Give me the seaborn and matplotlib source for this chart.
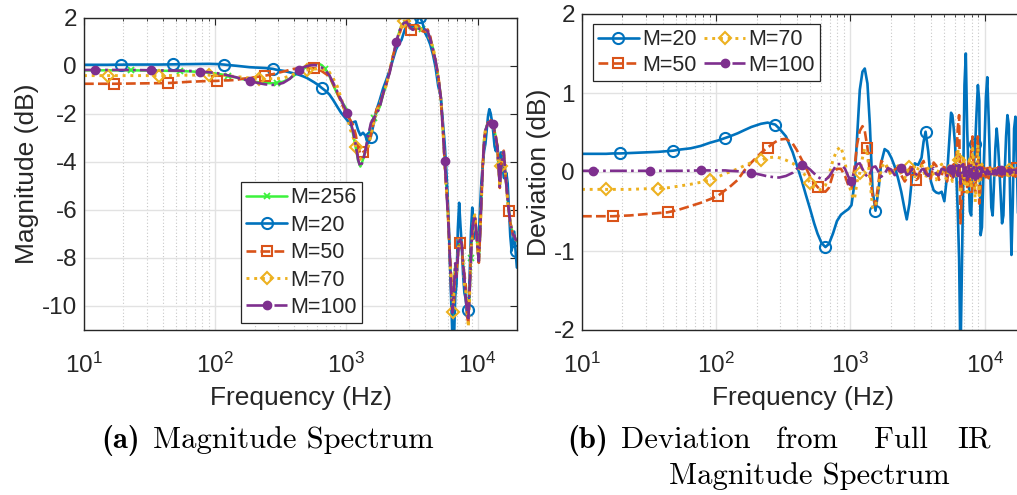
import numpy as np
import matplotlib
matplotlib.use("Agg")
import matplotlib.pyplot as plt
import seaborn as sns
from matplotlib.lines import Line2D
from matplotlib.ticker import LogLocator, NullFormatter

# ---------------------------------------------------------------------------
# Data: frequency grid (log10 Hz), full-IR magnitude (M=256) and deviations
# of the truncated responses from it (dB).
# ---------------------------------------------------------------------------
log_freq = [
    1.0, 1.084, 1.18, 1.232, 1.285, 1.356, 1.43, 1.508, 1.568, 1.638,
    1.68, 1.735, 1.81, 1.885, 1.953, 2.015, 2.067, 2.10, 2.16, 2.21,
    2.262, 2.333, 2.383, 2.44, 2.47, 2.52, 2.57, 2.60, 2.636, 2.67,
    2.70, 2.73, 2.755, 2.785, 2.814, 2.84, 2.87, 2.90, 2.93, 2.96,
    2.985, 3.008, 3.03, 3.05, 3.07, 3.09, 3.107, 3.127, 3.145, 3.165,
    3.187, 3.21, 3.23, 3.255, 3.28, 3.305, 3.33, 3.355, 3.379, 3.405,
    3.42, 3.44, 3.46, 3.48, 3.49, 3.505, 3.53, 3.545, 3.56, 3.58,
    3.60, 3.62, 3.64, 3.66, 3.68, 3.70, 3.72, 3.735,
    3.75, 3.76, 3.77, 3.78, 3.79, 3.80, 3.81, 3.82, 3.83, 3.84,
    3.85, 3.86, 3.87, 3.88, 3.89, 3.90, 3.91, 3.92, 3.93, 3.94,
    3.95, 3.96, 3.97, 3.98, 3.99, 4.00, 4.01, 4.02, 4.03, 4.04,
    4.05, 4.06, 4.07, 4.08, 4.09, 4.10, 4.11, 4.12, 4.13, 4.14,
    4.15, 4.16, 4.17, 4.18, 4.19, 4.20, 4.21, 4.22, 4.23, 4.24,
    4.25, 4.26, 4.27, 4.28, 4.29, 4.30,
]

mag_full = [
    -0.18, -0.18, -0.18, -0.18, -0.18, -0.18, -0.185, -0.19, -0.195, -0.20,
    -0.205, -0.21, -0.225, -0.25, -0.28, -0.32, -0.37, -0.41, -0.48, -0.55,
    -0.62, -0.68, -0.71, -0.72, -0.71, -0.65, -0.52, -0.40, -0.26, -0.13,
    -0.03, 0.05, 0.10, 0.11, 0.03, -0.12, -0.40, -0.80, -1.15, -1.45,
    -1.65, -1.85, -2.30, -2.80, -3.35, -3.95, -4.19, -3.90, -3.50, -3.00,
    -2.45, -2.15, -1.95, -1.70, -1.20, -0.75, -0.25, 0.35, 0.94, 1.45,
    1.68, 1.82, 1.78, 1.65, 1.60, 1.55, 1.55, 1.56, 1.55, 1.55,
    1.50, 1.40, 1.15, 0.75, 0.20, -0.45, -1.25, -2.60,
    -4.00, -4.85, -5.70, -6.80, -8.15, -9.40, -10.40, -9.20, -8.30, -8.90,
    -7.90, -7.20, -7.20, -7.50, -8.20, -8.90, -9.60, -10.30, -10.50, -9.50,
    -8.00, -6.80, -6.40, -6.30, -6.80, -7.60, -8.10, -7.00, -5.50, -4.20,
    -3.10, -2.70, -2.50, -2.40, -2.35, -2.32, -2.35, -2.45, -2.70, -3.00,
    -3.30, -4.20, -5.00, -4.20, -3.70, -3.60, -4.30, -5.00, -5.60, -6.10,
    -6.50, -6.80, -7.00, -7.10, -7.20, -7.30,
]

dev_m20 = [
    0.23, 0.23, 0.23, 0.235, 0.235, 0.24, 0.245, 0.25, 0.255, 0.265,
    0.27, 0.285, 0.30, 0.33, 0.37, 0.40, 0.43, 0.45, 0.49, 0.53,
    0.57, 0.61, 0.625, 0.60, 0.55, 0.45, 0.25, 0.09, -0.10, -0.30,
    -0.47, -0.65, -0.78, -0.90, -0.95, -0.91, -0.78, -0.62, -0.54, -0.50,
    -0.47, -0.42, -0.15, 0.45, 1.04, 1.27, 1.31, 1.12, 0.60, -0.23,
    -0.49, -0.22, 0.12, 0.29, 0.26, 0.18, 0.07, -0.08, -0.25, -0.48,
    -0.60, -0.40, -0.05, 0.11, 0.10, 0.09, 0.18, 0.38, 0.51, 0.26,
    -0.12, -0.23, -0.26, -0.27, -0.25, -0.37, -0.05, 0.35,
    0.75, 0.72, 0.55, 0.35, -0.05, -0.50, -1.10, -2.40, -1.30, -0.20,
    1.10, 1.50, 0.55, 0.00, -0.50, -0.55, -0.10, 0.07, 0.35, 0.75,
    1.10, 0.90, -0.80, -0.70, -0.10, 0.40, 0.95, 1.20, 0.70, 0.10,
    -0.45, -0.55, -0.15, 0.30, 0.55, 0.35, 0.05, -0.30, -0.65, -0.55,
    0.00, 0.45, 0.72, 0.60, -0.30, -1.05, -0.40, 0.55, 0.70, 0.10,
    -0.60, -0.90, -0.30, 0.20, -0.50, -1.10,
]

dev_m50 = [
    -0.56, -0.56, -0.56, -0.56, -0.555, -0.55, -0.54, -0.53, -0.52, -0.51,
    -0.495, -0.47, -0.43, -0.39, -0.345, -0.30, -0.23, -0.19, -0.10, 0.02,
    0.12, 0.24, 0.31, 0.38, 0.41, 0.42, 0.36, 0.28, 0.16, 0.05,
    -0.06, -0.14, -0.19, -0.24, -0.25, -0.20, -0.03, 0.04, 0.04, -0.05,
    -0.17, -0.21, 0.05, 0.35, 0.52, 0.58, 0.52, 0.31, -0.02, -0.30,
    -0.42, -0.12, 0.14, 0.10, 0.04, -0.02, 0.03, 0.06, -0.04, -0.12,
    -0.08, 0.04, 0.10, -0.02, -0.10, -0.08, 0.10, 0.14, 0.05, -0.10,
    -0.08, 0.12, 0.08, -0.10, -0.05, 0.10, -0.12, 0.05,
    -0.05, -0.10, 0.10, -0.05, 0.20, 0.55, 0.72, -0.65, -0.30, 0.20,
    0.10, -0.15, -0.19, 0.15, -0.20, 0.25, 0.45, -0.10, -0.25, 0.15,
    0.45, -0.40, -0.20, 0.10, -0.05, 0.08, -0.10, 0.05, -0.08, 0.06,
    -0.05, 0.04, -0.06, 0.05, -0.04, 0.06, -0.05, 0.04, -0.06, 0.05,
    -0.04, 0.06, -0.08, 0.05, -0.04, 0.07, -0.05, 0.04, -0.06, 0.05,
    -0.04, 0.06, -0.05, 0.04, -0.05, 0.05,
]

dev_m70 = [
    -0.22, -0.22, -0.22, -0.22, -0.22, -0.22, -0.215, -0.21, -0.21, -0.20,
    -0.19, -0.175, -0.155, -0.13, -0.10, -0.06, -0.02, 0.0, 0.04, 0.08,
    0.12, 0.15, 0.18, 0.19, 0.18, 0.15, 0.11, 0.07, 0.02, -0.06,
    -0.14, -0.20, -0.23, -0.22, -0.17, -0.04, 0.15, 0.28, 0.32, 0.12,
    -0.12, -0.28, -0.35, -0.12, -0.01, 0.18, 0.30, 0.22, -0.10, -0.45,
    -0.45, -0.20, 0.05, 0.12, 0.05, -0.05, 0.04, 0.08, -0.03, -0.08,
    0.0, 0.06, 0.02, -0.06, -0.04, 0.05, 0.10, 0.02, -0.08, 0.05,
    0.10, -0.04, -0.10, 0.05, 0.10, -0.05, -0.10, 0.08,
    -0.05, -0.12, 0.10, 0.15, -0.05, 0.30, 0.15, -0.27, -0.10, 0.20,
    -0.15, 0.10, -0.30, 0.05, 0.20, -0.20, 0.30, 0.10, -0.38, -0.10,
    0.35, -0.30, 0.05, 0.10, -0.05, 0.05, -0.04, 0.04, -0.03, 0.04,
    -0.04, 0.03, -0.04, 0.04, -0.03, 0.04, -0.04, 0.03, -0.04, 0.04,
    -0.03, 0.04, -0.04, 0.03, -0.04, 0.04, -0.03, 0.04, -0.04, 0.03,
    -0.04, 0.04, -0.03, 0.04, -0.04, 0.03,
]

dev_m100 = [
    0.015, 0.015, 0.015, 0.015, 0.015, 0.015, 0.015, 0.015, 0.015, 0.015,
    0.015, 0.015, 0.018, 0.02, 0.02, 0.02, 0.02, 0.015, 0.01, 0.0,
    -0.01, -0.035, -0.055, -0.068, -0.07, -0.05, -0.01, 0.04, 0.085, 0.07,
    0.03, -0.02, -0.06, -0.09, -0.10, -0.06, 0.02, 0.10, 0.10, 0.04,
    -0.06, -0.11, 0.02, 0.10, 0.11, 0.04, -0.02, -0.06, -0.02, 0.06,
    0.07, 0.0, -0.06, -0.02, 0.05, 0.03, -0.04, -0.02, 0.05, 0.02,
    -0.04, -0.02, 0.04, 0.01, -0.03, -0.04, 0.03, 0.04, -0.02, -0.05,
    0.02, 0.05, -0.03, -0.04, 0.04, 0.03, -0.05, 0.02,
    0.04, -0.03, -0.06, 0.05, 0.08, -0.05, 0.12, -0.15, 0.08, 0.10,
    -0.08, 0.06, -0.10, 0.08, -0.06, 0.10, -0.08, 0.06, -0.10, 0.12,
    -0.08, 0.06, -0.05, 0.05, -0.04, 0.04, -0.03, 0.03, -0.03, 0.03,
    -0.03, 0.03, -0.03, 0.03, -0.03, 0.03, -0.03, 0.03, -0.03, 0.03,
    -0.03, 0.03, -0.03, 0.03, -0.03, 0.03, -0.03, 0.03, -0.03, 0.03,
    -0.03, 0.03, -0.03, 0.03, -0.03, 0.03,
]

# Marker locations along each curve (log10 Hz)
mk_m256 = [1.356, 1.735, 2.10, 2.47, 2.84, 3.21, 3.58, 3.95]
mk_m20 = [1.285, 1.68, 2.067, 2.44, 2.814, 3.187, 3.56, 3.93, 4.29]
mk_m50 = [1.232, 1.638, 2.015, 2.383, 2.755, 3.127, 3.49, 3.87, 4.24]
mk_m70 = [1.18, 1.568, 1.953, 2.333, 2.70, 3.07, 3.44, 3.81, 4.18]
mk_m100 = [1.084, 1.508, 1.885, 2.262, 2.636, 3.008, 3.379, 3.75, 4.12]

labels = ["M=256", "M=20", "M=50", "M=70", "M=100"]

# ---------------------------------------------------------------------------
lf = np.asarray(log_freq)
freq = 10.0 ** lf
full = np.asarray(mag_full)
devs = {"M=20": np.asarray(dev_m20), "M=50": np.asarray(dev_m50),
        "M=70": np.asarray(dev_m70), "M=100": np.asarray(dev_m100)}
mags = {"M=256": full}
for k, d in devs.items():
    mags[k] = full + d

marks = {"M=256": mk_m256, "M=20": mk_m20, "M=50": mk_m50,
         "M=70": mk_m70, "M=100": mk_m100}
mark_idx = {k: sorted({int(np.argmin(np.abs(lf - m))) for m in v})
            for k, v in marks.items()}

C20, C50, C70, C100, C256 = "#0072BD", "#D95319", "#EDB120", "#7E2F8E", "#3CF23C"
styles = {
    "M=256": dict(color=C256, linestyle="-", marker="x", markersize=4.5,
                  markerfacecolor=C256, markeredgecolor=C256, markeredgewidth=1.3,
                  linewidth=1.8),
    "M=20": dict(color=C20, linestyle="-", marker="o", markersize=8,
                 markerfacecolor="none", markeredgecolor=C20, markeredgewidth=1.5,
                 linewidth=1.9),
    "M=50": dict(color=C50, linestyle="--", marker="s", markersize=7,
                 markerfacecolor="none", markeredgecolor=C50, markeredgewidth=1.5,
                 linewidth=1.9),
    "M=70": dict(color=C70, linestyle=":", marker="D", markersize=6.5,
                 markerfacecolor="none", markeredgecolor=C70, markeredgewidth=1.5,
                 linewidth=2.1),
    "M=100": dict(color=C100, linestyle="-.", marker="o", markersize=6,
                  markerfacecolor=C100, markeredgecolor=C100, markeredgewidth=1.0,
                  linewidth=1.9),
}

# ---------------------------------------------------------------------------
sns.set_theme(style="white")
plt.rcParams["font.family"] = ["Liberation Sans", "DejaVu Sans"]
plt.rcParams["mathtext.fontset"] = "custom"
plt.rcParams["mathtext.rm"] = "Liberation Sans"
plt.rcParams["mathtext.it"] = "Liberation Sans:italic"
plt.rcParams["axes.unicode_minus"] = False

INK = "#262626"
W, H = 1017, 495
fig = plt.figure(figsize=(W / 100, H / 100), dpi=100)


def px_axes(x0, y0, x1, y1):
    return fig.add_axes([x0 / W, 1 - y1 / H, (x1 - x0) / W, (y1 - y0) / H])


def style_axes(ax, ylim, yticks):
    ax.set_xscale("log")
    ax.set_xlim(10, 20000)
    ax.set_ylim(*ylim)
    ax.set_yticks(yticks)
    ax.xaxis.set_major_locator(LogLocator(base=10, numticks=10))
    ax.xaxis.set_minor_locator(LogLocator(base=10, subs=np.arange(2, 10), numticks=100))
    ax.xaxis.set_minor_formatter(NullFormatter())
    ax.grid(True, which="major", color="#e2e2e2", linewidth=1.0, linestyle="-")
    ax.grid(True, which="minor", axis="x", color="#c8c8c8", linewidth=0.8,
            linestyle=(0, (1, 2)))
    ax.set_axisbelow(True)
    for s in ax.spines.values():
        s.set_visible(True)
        s.set_color(INK)
        s.set_linewidth(1.0)
    ax.tick_params(which="both", direction="in", top=True, right=True,
                   colors=INK, labelsize=17.5)
    ax.tick_params(which="major", length=5, width=0.8)
    ax.tick_params(which="minor", length=2.5, width=0.6)
    ax.tick_params(axis="x", which="major", pad=16)
    ax.tick_params(axis="y", which="major", pad=5)


def draw(ax, key, y):
    st = dict(styles[key])
    sns.lineplot(x=freq, y=y, ax=ax, estimator=None, sort=False,
                 markevery=mark_idx[key], legend=False, **st)


def proxy(key):
    return Line2D([0], [0], **styles[key])


LEG = dict(fontsize=15.5, frameon=True, fancybox=False, framealpha=1,
           edgecolor=INK, handlelength=1.9, handletextpad=0.15, borderpad=0.25,
           borderaxespad=0, loc="upper left")

# (a) magnitude spectrum
ax1 = px_axes(84, 18, 517, 330)
style_axes(ax1, (-11, 2), [-10, -8, -6, -4, -2, 0, 2])
for key in labels:
    draw(ax1, key, mags[key])
ax1.set_xlabel("Frequency (Hz)", fontsize=19, color=INK, labelpad=6)
ax1.set_ylabel("Magnitude (dB)", fontsize=19, color=INK, labelpad=2)
leg1 = ax1.legend([proxy(k) for k in labels], labels, labelspacing=0.3,
                  bbox_to_anchor=(0.362, 0.475), **LEG)
leg1.get_frame().set_linewidth(0.9)

# (b) deviation from full IR
ax2 = px_axes(582, 14, 1025, 330)
style_axes(ax2, (-2, 2), [-2, -1, 0, 1, 2])
for key in labels[1:]:
    draw(ax2, key, devs[key])
ax2.set_xlabel("Frequency (Hz)", fontsize=19, color=INK, labelpad=6)
ax2.set_ylabel("Deviation (dB)", fontsize=19, color=INK, labelpad=2)
leg2 = ax2.legend([proxy(k) for k in labels[1:]], labels[1:], labelspacing=0.2,
                  bbox_to_anchor=(0.024, 0.968), ncol=2, columnspacing=0.35,
                  **LEG)
leg2.get_frame().set_linewidth(0.9)

# sub-captions
CAP = 22


def cap(x, y, s, bold=False, ha="left"):
    fig.text(x / W, 1 - y / H, s, fontsize=CAP, ha=ha, va="baseline",
             family="cmb10" if bold else "cmr10", color="black")


cap(101, 448, "(a)", bold=True)
cap(153, 448, "Magnitude Spectrum")
cap(567, 448, "(b)", bold=True)
cap(621, 448, "Deviation")
cap(776, 448, "from")
cap(874, 448, "Full")
cap(991, 448, "IR", ha="right")
cap(809, 484, "Magnitude Spectrum", ha="center")

fig.savefig("out.png", dpi=100)
